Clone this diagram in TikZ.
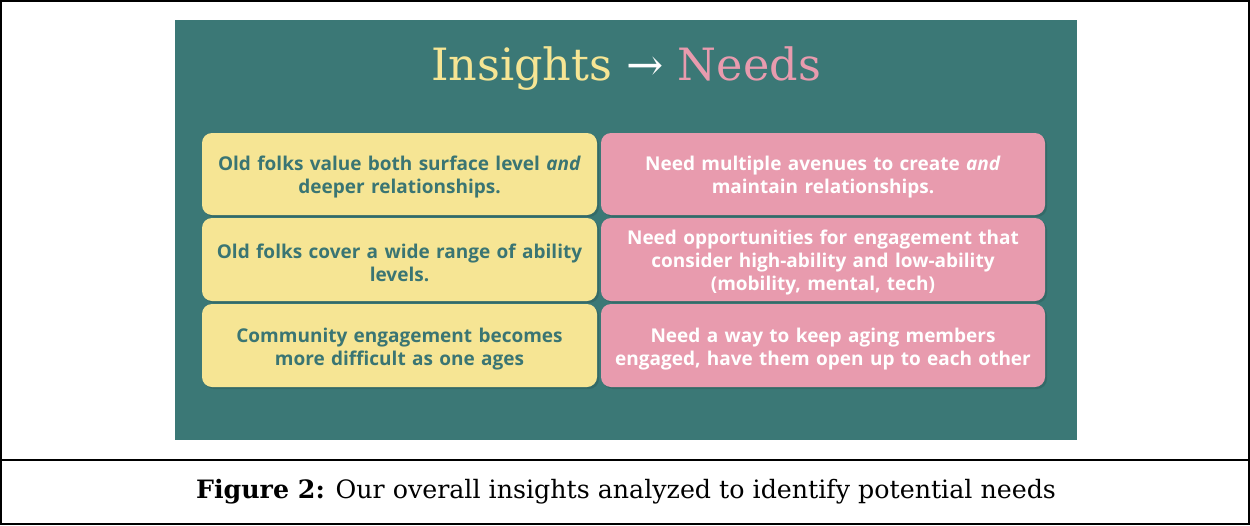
\documentclass[tikz,border=0pt]{standalone}
\usepackage{fontspec}
\newfontfamily\boxfont{Open Sans}
\newfontfamily\seriffont{DejaVu Serif}
\definecolor{teal}{HTML}{3B7876}
\definecolor{tealtext}{HTML}{3A7573}
\definecolor{ylw}{HTML}{F6E594}
\definecolor{pnk}{HTML}{E89BAE}
\definecolor{shade}{HTML}{2F6260}
\tikzset{
  cell/.style={rounded corners=10pt, minimum height=82pt, inner sep=0pt},
  insight/.style={cell, fill=ylw, minimum width=395pt},
  need/.style={cell, fill=pnk, minimum width=444pt},
  celltext/.style={inner sep=0pt, align=center, yshift=-3.5pt,
    font=\boxfont\bfseries\fontsize{19}{23}\selectfont},
  insighttext/.style={celltext, text=tealtext, text width=380pt},
  needtext/.style={celltext, text=white, text width=430pt},
  shadowbox/.style={rounded corners=10pt, fill=shade, opacity=0.6},
  frame/.style={draw=black, line width=2pt}
}
\begin{document}
\begin{tikzpicture}[x=1pt,y=-1pt]
\useasboundingbox (0,0) rectangle (1250,525);
\fill[white] (0,0) rectangle (1250,525);
% teal panel
\fill[teal] (175,20) rectangle (1077,440);
% title
\node[font=\seriffont\fontsize{44.5}{52}\selectfont, anchor=base, inner sep=0pt] (title) at (626,80)
  {\textcolor{ylw}{Insights} \textcolor{white}{→} \textcolor{pnk}{Needs}};
% shadows
\foreach \ya/\yb in {133/215, 218/301, 304/387}{
  \fill[shadowbox] (204,\ya+2) rectangle (599,\yb+2);
  \fill[shadowbox] (603,\ya+2) rectangle (1047,\yb+2);
}
% boxes
\node[insight] (i1) at (399.5,174) {};
\node[insight, minimum height=83pt] (i2) at (399.5,259.5) {};
\node[insight, minimum height=83pt] (i3) at (399.5,345.5) {};
\node[need] (n1) at (823,174) {};
\node[need, minimum height=83pt] (n2) at (823,259.5) {};
\node[need, minimum height=83pt] (n3) at (823,345.5) {};
% texts
\node[insighttext] (i1t) at (i1.center) {Old folks value both surface level \textit{and}\\deeper relationships.};
\node[insighttext] (i2t) at (i2.center) {Old folks cover a wide range of ability\\levels.};
\node[insighttext] (i3t) at (i3.center) {Community engagement becomes\\more difficult as one ages};
\node[needtext] (n1t) at (n1.center) {Need multiple avenues to create \textit{and}\\maintain relationships.};
\node[needtext] (n2t) at (n2.center) {Need opportunities for engagement that\\consider high-ability and low-ability\\(mobility, mental, tech)};
\node[needtext] (n3t) at (n3.center) {Need a way to keep aging members\\engaged, have them open up to each other};
% caption
\node[font=\seriffont\fontsize{25.3}{30}\selectfont, anchor=base, inner sep=0pt] (cap) at (626,498)
  {\textbf{Figure 2:} Our overall insights analyzed to identify potential needs};
% frame
\draw[frame] (1,1) rectangle (1249,524);
\draw[frame] (0,460) -- (1250,460);
\end{tikzpicture}
\end{document}
